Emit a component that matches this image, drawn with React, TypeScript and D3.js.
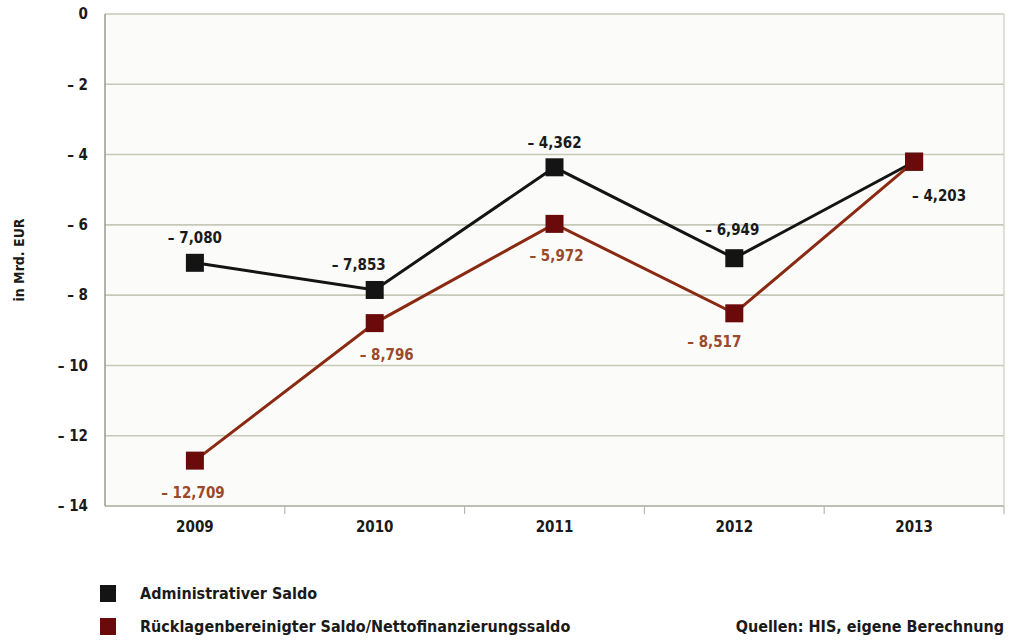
import React from "react";
import * as d3 from "d3";

const years = ["2009", "2010", "2011", "2012", "2013"];
const adminSaldo = [-7.08, -7.853, -4.362, -6.949, -4.203];
const nettoSaldo = [-12.709, -8.796, -5.972, -8.517, -4.203];
const adminLabels = ["– 7,080", "– 7,853", "– 4,362", "– 6,949", "– 4,203"];
const nettoLabels = ["– 12,709", "– 8,796", "– 5,972", "– 8,517", ""];
const yTicks = [0, -2, -4, -6, -8, -10, -12, -14];
const yTickLabels = ["0", "– 2", "– 4", "– 6", "– 8", "– 10", "– 12", "– 14"];
const seriesNames = ["Administrativer Saldo", "Rücklagenbereinigter Saldo/Nettofinanzierungssaldo"];

// label placement (offsets from marker), kept separate from data
const adminOffsets: [number, number][] = [[0, -25], [-16, -25], [0, -25], [-2, -28], [25, 34]];
const nettoOffsets: [number, number][] = [[-2, 32], [12, 32], [2, 32], [-20, 28], [0, 0]];

const W = 1017, H = 642;
const left = 105, right = 1004, top = 14, bottom = 506;

export default function App() {
  const x = d3.scaleBand<string>().domain(years).range([left, right]);
  const y = d3.scaleLinear().domain([0, -14]).range([top, bottom]);
  const cx = (i: number) => (x(years[i]) as number) + x.bandwidth() / 2;
  const line = d3.line<number>().x((_, i) => cx(i)).y((v) => y(v));
  const font = "'DejaVu Sans Condensed', 'DejaVu Sans', sans-serif";
  const black = "#141414";
  const red = "#6a0a0a";
  const redLine = "#8a2a12";
  const redText = "#9a4a2a";
  const fs = 15;
  return (
    <svg width={W} height={H} style={{ position: "absolute", left: 0, top: 0, background: "#fff" }} fontFamily={font}>
      <rect x={left} y={top} width={right - left} height={bottom - top} fill="#fbfbf9" />
      {yTicks.map((t, i) => (
        <g key={t}>
          <line x1={left} x2={right} y1={y(t)} y2={y(t)} stroke={t === -14 ? "#a8ab9c" : "#c6c9b8"} strokeWidth={1.6} />
          <text x={88} y={y(t)} dy="0.35em" textAnchor="end" fontSize={fs} fontWeight="bold" fill="#1a1a1a">{yTickLabels[i]}</text>
        </g>
      ))}
      <line x1={left} x2={left} y1={top} y2={bottom} stroke="#9a9a90" strokeWidth={1.5} />
      <line x1={right} x2={right} y1={top} y2={bottom} stroke="#d4d6c8" strokeWidth={1.5} />
      {years.map((yr) => (
        <line key={"t" + yr} x1={(x(yr) as number) + x.bandwidth()} x2={(x(yr) as number) + x.bandwidth()} y1={bottom} y2={bottom + 8} stroke="#b8b8ae" strokeWidth={1.2} />
      ))}
      {years.map((yr, i) => (
        <text key={yr} x={cx(i)} y={532} textAnchor="middle" fontSize={fs} fontWeight="bold" fill="#1a1a1a">{yr}</text>
      ))}
      <text transform={`translate(24,${(top + bottom) / 2}) rotate(-90)`} textAnchor="middle" fontSize={14} fontWeight="bold" fill="#1a1a1a">in Mrd. EUR</text>

      <path d={line(adminSaldo) || ""} fill="none" stroke={black} strokeWidth={3} />
      <path d={line(nettoSaldo) || ""} fill="none" stroke={redLine} strokeWidth={3} />
      {adminSaldo.map((v, i) => (
        <rect key={"a" + i} x={cx(i) - 9} y={y(v) - 9} width={18} height={18} fill={black} />
      ))}
      {nettoSaldo.map((v, i) => (
        <rect key={"n" + i} x={cx(i) - 9} y={y(v) - 9} width={18} height={18} fill={red} />
      ))}
      {adminSaldo.map((v, i) => (
        <text key={"al" + i} x={cx(i) + adminOffsets[i][0]} y={y(v) + adminOffsets[i][1]} dy="0.35em" textAnchor="middle" fontSize={fs} fontWeight="bold" fill="#1a1a1a">{adminLabels[i]}</text>
      ))}
      {nettoSaldo.map((v, i) => nettoLabels[i] ? (
        <text key={"nl" + i} x={cx(i) + nettoOffsets[i][0]} y={y(v) + nettoOffsets[i][1]} dy="0.35em" textAnchor="middle" fontSize={fs} fontWeight="bold" fill={redText}>{nettoLabels[i]}</text>
      ) : null)}

      <rect x={100} y={585} width={16} height={17} fill={black} />
      <text x={140} y={599} fontSize={16} fontWeight="bold" fill="#1a1a1a">{seriesNames[0]}</text>
      <rect x={100} y={618} width={16} height={17} fill={red} />
      <text x={140} y={632} fontSize={16} fontWeight="bold" fill="#1a1a1a">{seriesNames[1]}</text>
      <text x={1004} y={632} textAnchor="end" fontSize={16} fontWeight="bold" fill="#1a1a1a">Quellen: HIS, eigene Berechnung</text>
    </svg>
  );
}
